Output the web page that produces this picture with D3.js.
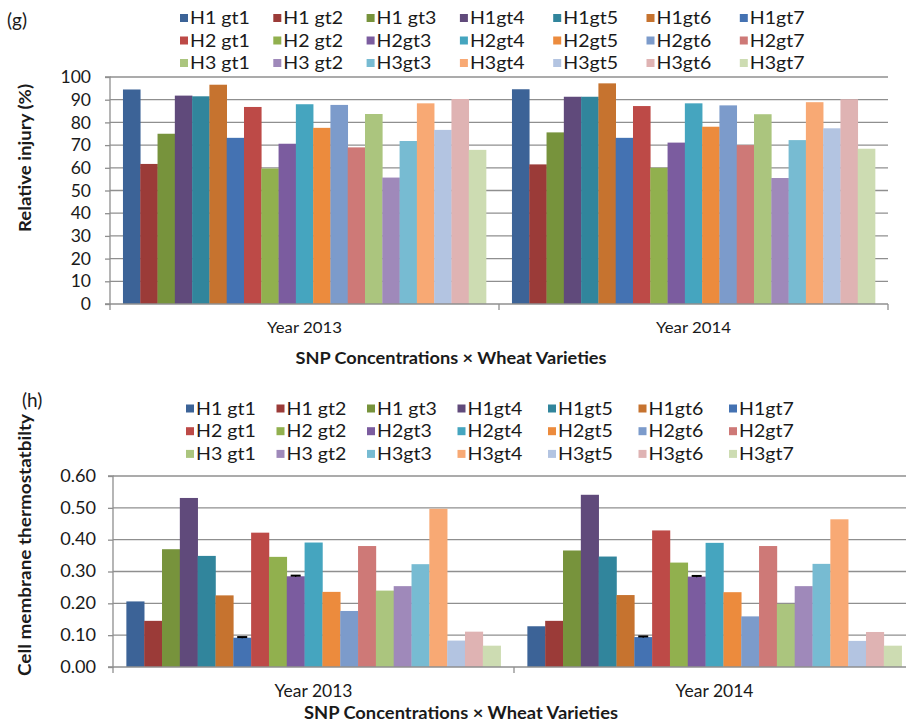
<!DOCTYPE html>
<html>
<head>
<meta charset="utf-8">
<script src="https://cdn.jsdelivr.net/npm/d3@7"></script>
<style>
  html, body { margin: 0; padding: 0; background: #fff; }
  svg { display: block; font-family: Lato, "Open Sans", sans-serif; }
</style>
</head>
<body>
<svg id="chart" width="906" height="725"></svg>
<script>
// Categories and series
const years = ["Year 2013", "Year 2014"];
const series = [
  "H1 gt1", "H1 gt2", "H1 gt3", "H1gt4", "H1gt5", "H1gt6", "H1gt7",
  "H2 gt1", "H2 gt2", "H2gt3", "H2gt4", "H2gt5", "H2gt6", "H2gt7",
  "H3 gt1", "H3 gt2", "H3gt3", "H3gt4", "H3gt5", "H3gt6", "H3gt7"
];
const colors = [
  "#3c6397", "#9b3b38", "#77933c", "#604a7b", "#31859c", "#c6732f", "#4472b2",
  "#bd4a47", "#91b04e", "#7b5c9f", "#45a5bf", "#ec8b3d", "#7c9bcb", "#ce7977",
  "#abc57e", "#9f89ba", "#77bbd2", "#f8a974", "#b3c4e1", "#dfb3b3", "#cddcb2"
];

// (g) Relative injury (%)
const injury2013 = [94.5, 61.7, 75.0, 91.8, 91.5, 96.6, 73.2, 86.8, 59.7, 70.6, 88.0,
                    77.6, 87.7, 69.0, 83.7, 55.7, 71.8, 88.4, 76.7, 90.3, 67.9];
const injury2014 = [94.6, 61.5, 75.6, 91.3, 91.3, 97.2, 73.2, 87.2, 60.0, 71.1, 88.4,
                    78.1, 87.5, 70.0, 83.6, 55.5, 72.2, 88.9, 77.4, 90.2, 68.4];
const injuryTicks = [0, 10, 20, 30, 40, 50, 60, 70, 80, 90, 100];

// (h) Cell membrane thermostability
const cmt2013 = [0.206, 0.145, 0.370, 0.531, 0.349, 0.225, 0.092, 0.422, 0.346, 0.285, 0.391,
                 0.236, 0.176, 0.380, 0.240, 0.254, 0.323, 0.497, 0.083, 0.111, 0.067];
const cmt2014 = [0.128, 0.145, 0.366, 0.541, 0.347, 0.226, 0.094, 0.429, 0.328, 0.284, 0.390,
                 0.235, 0.159, 0.380, 0.198, 0.254, 0.324, 0.464, 0.082, 0.110, 0.067];
const cmtErr2013 = [0, 0, 0, 0, 0, 0, 0.002, 0, 0, 0.002, 0, 0, 0, 0, 0, 0, 0, 0, 0, 0, 0];
const cmtErr2014 = [0, 0, 0, 0, 0, 0, 0.002, 0, 0, 0.002, 0, 0, 0, 0, 0, 0, 0, 0, 0, 0, 0];
const cmtTicks = [0, 0.1, 0.2, 0.3, 0.4, 0.5, 0.6];

const svg = d3.select("#chart");
const TEXT = "#1a1a1a";
const GRID = "#8f8f8f";

// widen glyphs horizontally by factor k
function stretch(sel, k) {
  sel.each(function () {
    const w = this.getComputedTextLength();
    d3.select(this).attr("textLength", w * k).attr("lengthAdjust", "spacingAndGlyphs");
  });
  return sel;
}
// set the drawn length of a text run
function fitTo(sel, len) {
  return sel.attr("textLength", len).attr("lengthAdjust", "spacingAndGlyphs");
}

function panel(cfg) {
  const g = svg.append("g");
  const x0 = d3.scaleBand().domain(years).range(cfg.xRange);
  const bw = x0.bandwidth();
  const gap = bw * 1.5 / (series.length + 1.5);
  const x1 = d3.scaleBand().domain(series).range([gap / 2, bw - gap / 2]);
  const y = d3.scaleLinear().domain(cfg.yDomain).range(cfg.yRange);

  // gridlines
  g.append("g").selectAll("line").data(cfg.ticks.slice(1)).join("line")
    .attr("x1", cfg.xRange[0]).attr("x2", cfg.xRange[1])
    .attr("y1", d => y(d)).attr("y2", d => y(d))
    .attr("stroke", GRID).attr("stroke-width", 1.3);

  // bars
  const rows = years.map((yr, i) => ({ yr, vals: cfg.values[i], errs: cfg.errs ? cfg.errs[i] : null }));
  const grp = g.append("g").selectAll("g").data(rows).join("g")
    .attr("transform", d => `translate(${x0(d.yr)},0)`);
  grp.selectAll("rect").data(d => d.vals.map((v, j) => ({ s: series[j], v, c: colors[j] })))
    .join("rect")
    .attr("x", d => x1(d.s)).attr("width", x1.bandwidth() + 0.3)
    .attr("y", d => y(d.v)).attr("height", d => y(0) - y(d.v))
    .attr("fill", d => d.c);

  // error bars
  if (cfg.errs) {
    grp.selectAll("g.err").data(d => d.vals.map((v, j) => ({ s: series[j], v, e: d.errs[j] })).filter(d => d.e > 0))
      .join("g").attr("class", "err")
      .each(function (d) {
        const cx = x1(d.s) + x1.bandwidth() / 2;
        const e = d3.select(this);
        e.append("line").attr("x1", cx).attr("x2", cx).attr("y1", y(d.v - d.e)).attr("y2", y(d.v + d.e))
          .attr("stroke", "#000").attr("stroke-width", 1.2);
        e.append("line").attr("x1", cx - 5).attr("x2", cx + 5).attr("y1", y(d.v + d.e)).attr("y2", y(d.v + d.e))
          .attr("stroke", "#000").attr("stroke-width", 2);
      });
  }

  // y axis
  const ya = g.append("g").attr("transform", `translate(${cfg.xRange[0]},0)`)
    .call(d3.axisLeft(y).tickValues(cfg.ticks).tickFormat(cfg.fmt).tickSize(5).tickPadding(cfg.tickPad));
  ya.select(".domain").attr("stroke", GRID).attr("stroke-width", 1.3).attr("d", `M-5,${y(cfg.ticks[0])}H0V${y(cfg.ticks[cfg.ticks.length - 1])}H-5`);
  ya.selectAll(".tick line").attr("stroke", GRID).attr("stroke-width", 1.3);
  ya.selectAll(".tick text").attr("fill", TEXT).attr("font-size", cfg.tickFont)
    .attr("font-family", "Lato, sans-serif").call(stretch, cfg.tickStretch);

  // x axis
  const xa = g.append("g").attr("transform", `translate(0,${y(0)})`);
  xa.append("line").attr("x1", cfg.xRange[0]).attr("x2", cfg.xRange[1])
    .attr("y1", 0).attr("y2", 0).attr("stroke", GRID).attr("stroke-width", 1.3);
  const bounds = years.map(d => x0(d)).concat([x0(years[years.length - 1]) + bw]);
  xa.selectAll("line.tk").data(bounds).join("line").attr("class", "tk")
    .attr("x1", d => d).attr("x2", d => d).attr("y1", 0).attr("y2", 6)
    .attr("stroke", GRID).attr("stroke-width", 1.3);
  xa.selectAll("text").data(years).join("text")
    .attr("x", d => x0(d) + bw / 2).attr("y", cfg.catLabelDy)
    .attr("text-anchor", "middle").attr("fill", TEXT).attr("font-size", cfg.catFont)
    .text(d => d).call(fitTo, cfg.catLen);

  // axis titles
  g.append("text").attr("x", cfg.xTitle[0]).attr("y", cfg.xTitle[1])
    .attr("text-anchor", "middle").attr("font-weight", "bold").attr("font-size", cfg.titleFont)
    .attr("fill", TEXT).text("SNP Concentrations × Wheat Varieties").call(fitTo, cfg.xTitleLen);
  g.append("text").attr("transform", `translate(${cfg.yTitle[0]},${cfg.yTitle[1]}) rotate(-90)`)
    .attr("text-anchor", "middle").attr("font-weight", "bold").attr("font-size", cfg.titleFont)
    .attr("fill", TEXT).text(cfg.yLabel).call(fitTo, cfg.yTitleLen);

  // panel letter
  g.append("text").attr("x", cfg.letter[0]).attr("y", cfg.letter[1])
    .attr("font-size", 19).attr("fill", TEXT).text(cfg.letterText);

  // legend: 3 rows x 7 columns
  const leg = g.append("g");
  const items = leg.selectAll("g").data(series).join("g")
    .attr("transform", (d, i) => {
      const col = i % 7, row = Math.floor(i / 7);
      return `translate(${cfg.legX + col * cfg.legStep},${cfg.legY + row * cfg.legRow})`;
    });
  items.append("rect").attr("x", 0).attr("y", -4).attr("width", 8).attr("height", 8)
    .attr("fill", (d, i) => colors[i]);
  items.append("text").attr("x", 10).attr("y", 6).attr("font-size", cfg.legFont)
    .attr("fill", TEXT).text(d => d).call(stretch, cfg.legStretch);
}

panel({
  xRange: [110, 888], yDomain: [0, 100], yRange: [304, 77],
  values: [injury2013, injury2014], ticks: injuryTicks, fmt: d3.format("d"),
  tickPad: 14, tickFont: 17.5, tickStretch: 1.0,
  catLabelDy: 29, catFont: 16, catLen: 75,
  xTitle: [451, 364], xTitleLen: 311, yTitle: [31, 158], yTitleLen: 148, titleFont: 17,
  yLabel: "Relative injury (%)",
  letter: [7, 27], letterText: "(g)",
  legX: 180, legY: 18, legStep: 93.3, legRow: 22.5, legFont: 17, legStretch: 1.15
});

panel({
  xRange: [113, 915], yDomain: [0, 0.6], yRange: [667, 476],
  values: [cmt2013, cmt2014], errs: [cmtErr2013, cmtErr2014], ticks: cmtTicks, fmt: d3.format(".2f"),
  tickPad: 12, tickFont: 16.5, tickStretch: 1.1,
  catLabelDy: 30, catFont: 16.5, catLen: 78,
  xTitle: [461, 719], xTitleLen: 314, yTitle: [31, 545], yTitleLen: 262, titleFont: 16.5,
  yLabel: "Cell membrane thermostatbilty",
  letter: [22, 407], letterText: "(h)",
  legX: 186, legY: 408.5, legStep: 90.5, legRow: 22.7, legFont: 17, legStretch: 1.15
});
</script>
</body>
</html>
